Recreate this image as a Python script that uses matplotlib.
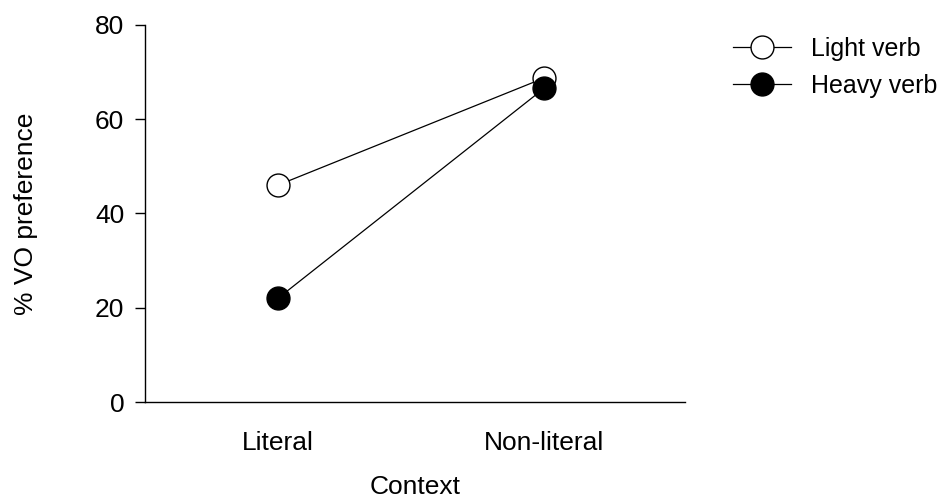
import matplotlib.pyplot as plt

# VO preference by context and verb type
contexts = ["Literal", "Non-literal"]
light_verb = [46.0, 68.7]
heavy_verb = [22.0, 66.5]

plt.rcParams["font.family"] = ["Liberation Sans", "DejaVu Sans"]
plt.rcParams["font.size"] = 19

fig = plt.figure(figsize=(9.43, 4.96), dpi=100)
ax = fig.add_axes([0.1538, 0.1895, 0.5725, 0.7605])

x = range(len(contexts))
ax.plot(x, light_verb, color="black", lw=0.9, marker="o", ms=16.5,
        mfc="white", mec="black", mew=1.0, label="Light verb", zorder=3)
ax.plot(x, heavy_verb, color="black", lw=0.9, marker="o", ms=16.5,
        mfc="black", mec="black", label="Heavy verb", zorder=3)

ax.set_xlim(-0.5, 1.53)
ax.set_ylim(0, 80)
ax.set_yticks([0, 20, 40, 60, 80])
ax.set_xticks(list(x))
ax.set_xticklabels(contexts)
ax.tick_params(axis="x", length=0, pad=21)
ax.tick_params(axis="y", length=7, width=1, direction="out", pad=8)

for side in ["top", "right"]:
    ax.spines[side].set_visible(False)
ax.spines["left"].set_linewidth(1)
ax.spines["bottom"].set_linewidth(1)

ax.set_xlabel("Context", labelpad=14)
ax.set_ylabel("% VO preference", labelpad=41)

fig.legend(loc="upper left", bbox_to_anchor=(0.777, 0.925), frameon=False,
           fontsize=18, handlelength=2.35, handletextpad=0.8, labelspacing=0.52,
           borderpad=0, borderaxespad=0)

fig.savefig("out.png", dpi=100)
